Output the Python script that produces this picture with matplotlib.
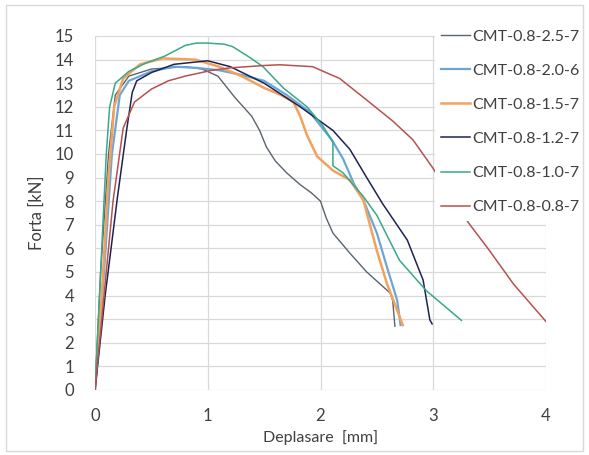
import matplotlib.pyplot as plt
from matplotlib.patches import Rectangle

plt.rcParams['font.family'] = ['Lato', 'DejaVu Sans']

# Data
labels = ['CMT-0.8-2.5-7', 'CMT-0.8-2.0-6', 'CMT-0.8-1.5-7',
          'CMT-0.8-1.2-7', 'CMT-0.8-1.0-7', 'CMT-0.8-0.8-7']
colors = ['#5a6470', '#6aa6d8', '#f2a25c', '#1e2452', '#3aa88a', '#b5524f']
widths = [1.0, 1.6, 1.8, 1.1, 1.1, 1.1]

x_25 = [0, 0.05, 0.12, 0.18, 0.3, 0.5, 0.8, 0.95, 1.09, 1.24, 1.39, 1.46, 1.52, 1.6, 1.7, 1.82, 1.92, 2.0, 2.05, 2.11, 2.26, 2.41, 2.55, 2.62, 2.64, 2.66]
y_25 = [0, 5.0, 10.0, 12.5, 13.3, 13.6, 13.7, 13.6, 13.3, 12.4, 11.6, 11.0, 10.3, 9.7, 9.2, 8.7, 8.35, 8.0, 7.3, 6.65, 5.8, 5.0, 4.4, 4.1, 3.8, 2.7]

x_20 = [0, 0.08, 0.15, 0.22, 0.3, 0.5, 0.7, 0.9, 1.1, 1.3, 1.5, 1.7, 1.9, 2.1, 2.2, 2.3, 2.38, 2.5, 2.59, 2.68, 2.71]
y_20 = [0, 5.0, 10.0, 12.5, 13.1, 13.5, 13.7, 13.65, 13.55, 13.35, 13.1, 12.5, 11.8, 10.6, 9.8, 8.7, 8.05, 6.65, 5.2, 3.8, 2.75]

x_15 = [0, 0.06, 0.12, 0.17, 0.25, 0.4, 0.6, 0.89, 1.1, 1.3, 1.5, 1.65, 1.76, 1.82, 1.88, 1.91, 1.97, 2.11, 2.26, 2.38, 2.5, 2.59, 2.73]
y_15 = [0, 4.0, 9.0, 12.0, 13.2, 13.8, 14.05, 14.0, 13.7, 13.3, 12.8, 12.5, 12.2, 11.6, 10.8, 10.5, 9.9, 9.3, 8.9, 8.05, 5.9, 4.5, 2.75]

x_12 = [0, 0.09, 0.2, 0.28, 0.33, 0.37, 0.5, 0.7, 1.0, 1.2, 1.5, 1.82, 2.11, 2.26, 2.41, 2.55, 2.77, 2.91, 2.97, 2.99]
y_12 = [0, 4.0, 8.2, 11.0, 12.6, 13.1, 13.45, 13.8, 13.95, 13.7, 13.0, 12.0, 11.0, 10.2, 9.0, 7.9, 6.35, 4.66, 2.97, 2.8]

x_10 = [0, 0.03, 0.07, 0.1, 0.13, 0.18, 0.3, 0.45, 0.62, 0.8, 0.9, 1.0, 1.15, 1.22, 1.37, 1.49, 1.67, 1.88, 2.02, 2.11, 2.11, 2.2, 2.38, 2.5, 2.7, 2.94, 3.25]
y_10 = [0, 3.0, 7.0, 10.0, 12.0, 13.0, 13.5, 13.85, 14.15, 14.6, 14.7, 14.7, 14.65, 14.55, 14.1, 13.7, 12.8, 12.0, 11.2, 10.5, 9.5, 9.2, 8.2, 7.4, 5.5, 4.2, 2.95]

x_08 = [0, 0.08, 0.16, 0.25, 0.35, 0.5, 0.65, 0.8, 1.04, 1.2, 1.5, 1.64, 1.93, 2.17, 2.38, 2.64, 2.82, 2.99, 3.31, 3.5, 3.71, 4.0]
y_08 = [0, 4.0, 8.0, 11.1, 12.2, 12.75, 13.1, 13.3, 13.55, 13.65, 13.75, 13.78, 13.7, 13.2, 12.4, 11.4, 10.6, 9.45, 7.1, 5.9, 4.5, 2.9]

series_x = [x_25, x_20, x_15, x_12, x_10, x_08]
series_y = [y_25, y_20, y_15, y_12, y_10, y_08]

fig = plt.figure(figsize=(5.89, 4.55), dpi=100)
ax = fig.add_axes([95 / 589, 65 / 455, 451 / 589, 354 / 455])

for xs, ys, lab, c, w in zip(series_x, series_y, labels, colors, widths):
    ax.plot(xs, ys, color=c, lw=w, label=lab)

ax.set_xlim(0, 4)
ax.set_ylim(0, 15)
ax.set_xticks(range(0, 5))
ax.set_yticks(range(0, 16))
ax.grid(True, color='#d9d9d9', lw=0.9)
ax.set_axisbelow(True)
for s in ax.spines.values():
    s.set_visible(False)
ax.tick_params(length=0, labelsize=12, colors='#404040')
ax.tick_params(axis='y', pad=15)
ax.tick_params(axis='x', pad=13)
ax.set_xlabel('Deplasare  [mm]', fontsize=11.5, color='#404040', labelpad=4)
ax.set_ylabel('Forta [kN]', fontsize=12, color='#404040', labelpad=7)

leg = ax.legend(loc='upper left', bbox_to_anchor=(435 / 589, 432 / 455),
                bbox_transform=fig.transFigure, frameon=True, fancybox=False,
                facecolor='white', edgecolor='none', framealpha=1,
                fontsize=11.5, handlelength=1.8, handletextpad=0.15,
                labelspacing=1.25, borderaxespad=0, borderpad=0.4)
for t in leg.get_texts():
    t.set_color('#404040')

# outer chart frame
fig.patches.append(Rectangle((6 / 589, 4 / 455), 577 / 589, 446 / 455,
                             transform=fig.transFigure, fill=False,
                             edgecolor='#d9d9d9', lw=1))

fig.savefig('out.png', dpi=100)
